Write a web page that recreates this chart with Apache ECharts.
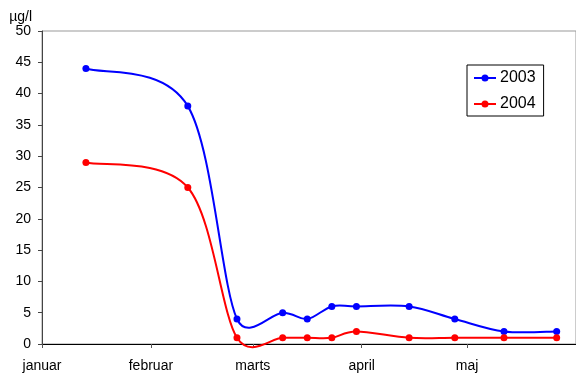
<!DOCTYPE html>
<html>
<head>
<meta charset="utf-8">
<script src="https://cdn.jsdelivr.net/npm/echarts@6/dist/echarts.min.js"></script>
<style>
html,body{margin:0;padding:0;background:#fff;}
#c{width:576px;height:374px;}
</style>
</head>
<body>
<div id="c"></div>
<script>
// Sample dates (2004)
const sampleDates = ['2004-01-13','2004-02-11','2004-02-25','2004-03-09','2004-03-16','2004-03-23','2004-03-30','2004-04-14','2004-04-27','2004-05-11','2004-05-26'];
const values2003 = [44, 38, 4, 5, 4, 6, 6, 6, 4, 2, 2];
const values2004 = [29, 25, 1, 1, 1, 1, 2, 1, 1, 1, 1];
const monthStarts = ['2004-01-01','2004-02-01','2004-03-01','2004-04-01','2004-05-01'];
const monthLabels = ['januar','februar','marts','april','maj'];
const axisEnd = '2004-06-01';
const yTicks = [0,5,10,15,20,25,30,35,40,45,50];
const unitLabel = 'µg/l';
const seriesNames = ['2003','2004'];
const seriesColors = ['#0000ff','#ff0000'];

function dayNum(s){
  const p = s.split('-').map(Number);
  return (Date.UTC(p[0],p[1]-1,p[2]) - Date.UTC(2004,0,1)) / 86400000;
}
const monthTickVals = monthStarts.map(dayNum);
const labelMap = {};
monthTickVals.forEach((v,i)=>labelMap[v]=monthLabels[i]);
const xs = sampleDates.map(d => dayNum(d) + 0.5);

const CLAMP = 0.55;
function makeRender(vals, color){
  return function(params, api){
    const n = vals.length;
    const i = params.dataIndex;
    const P = k => api.coord([xs[Math.max(0,Math.min(n-1,k))], vals[Math.max(0,Math.min(n-1,k))]]);
    const d = (a,b)=>Math.hypot(a[0]-b[0], a[1]-b[1]);
    const tan = (a,b,seg)=>{
      let v = [(b[0]-a[0])/6, (b[1]-a[1])/6];
      const l = Math.hypot(v[0],v[1]);
      if (l > CLAMP*seg && l > 0){ const f = CLAMP*seg/l; v = [v[0]*f, v[1]*f]; }
      return v;
    };
    const children = [];
    if (i < n-1){
      const p0 = P(i-1), p1 = P(i), p2 = P(i+1), p3 = P(i+2);
      const seg = d(p1,p2);
      const t1 = tan(p0,p2,seg), t2 = tan(p1,p3,seg);
      children.push({type:'bezierCurve', shape:{x1:p1[0],y1:p1[1],cpx1:p1[0]+t1[0],cpy1:p1[1]+t1[1],cpx2:p2[0]-t2[0],cpy2:p2[1]-t2[1],x2:p2[0],y2:p2[1]},
        style:{stroke:color, lineWidth:2, fill:null}, z2:1});
    }
    const c = P(i);
    children.push({type:'circle', shape:{cx:c[0], cy:c[1], r:3.5}, style:{fill:color}, z2:2});
    return {type:'group', children:children};
  };
}

const legendIcon = 'path://M0,2.5 L22,2.5 L22,4.5 L0,4.5 Z M14.5,3.5 A3.5,3.5 0 1,1 7.5,3.5 A3.5,3.5 0 1,1 14.5,3.5 Z';
const font = 'Liberation Sans, Arial, sans-serif';
const chart = echarts.init(document.getElementById('c'), null, {renderer:'canvas'});
chart.setOption({
  animation:false,
  backgroundColor:'#fff',
  grid:{left:42, right:-2, top:31, bottom:30, show:true, borderColor:'#999', borderWidth:1, backgroundColor:'transparent'},
  legend:{
    data:seriesNames.map(n=>({name:n, icon:legendIcon})),
    orient:'vertical',
    left:467, top:65,
    itemWidth:22, itemHeight:7, itemGap:10,
    padding:[5,8,4,7],
    borderColor:'#000', borderWidth:1, backgroundColor:'#fff',
    textStyle:{fontFamily:font, fontSize:16, color:'#000', padding:[0,0,0,-1]}
  },
  xAxis:{
    type:'value', min:0, max:dayNum(axisEnd),
    axisLine:{show:true, onZero:false, lineStyle:{color:'#000', width:1}},
    axisTick:{show:true, customValues:monthTickVals, length:4, lineStyle:{color:'#555'}},
    axisLabel:{customValues:monthTickVals, formatter:v=>labelMap[v]||'', fontFamily:font, fontSize:14, color:'#000', margin:15},
    splitLine:{show:false}
  },
  yAxis:{
    type:'value', min:0, max:50, interval:5,
    name:unitLabel, nameLocation:'end', nameGap:4,
    nameTextStyle:{fontFamily:font, fontSize:14, color:'#000', align:'right', padding:[0,10,0,0]},
    axisLine:{show:true, lineStyle:{color:'#444', width:1}},
    axisTick:{show:true, length:4, lineStyle:{color:'#444'}},
    axisLabel:{fontFamily:font, fontSize:14, color:'#000', margin:11, customValues:yTicks},
    splitLine:{show:false}
  },
  series:[values2003, values2004].map((vals, k)=>({
    name:seriesNames[k], type:'custom', clip:false,
    itemStyle:{color:seriesColors[k]},
    renderItem: makeRender(vals, seriesColors[k]),
    encode:{x:0, y:1},
    data: xs.map((x,i)=>[x, vals[i]])
  }))
});
</script>
</body>
</html>
